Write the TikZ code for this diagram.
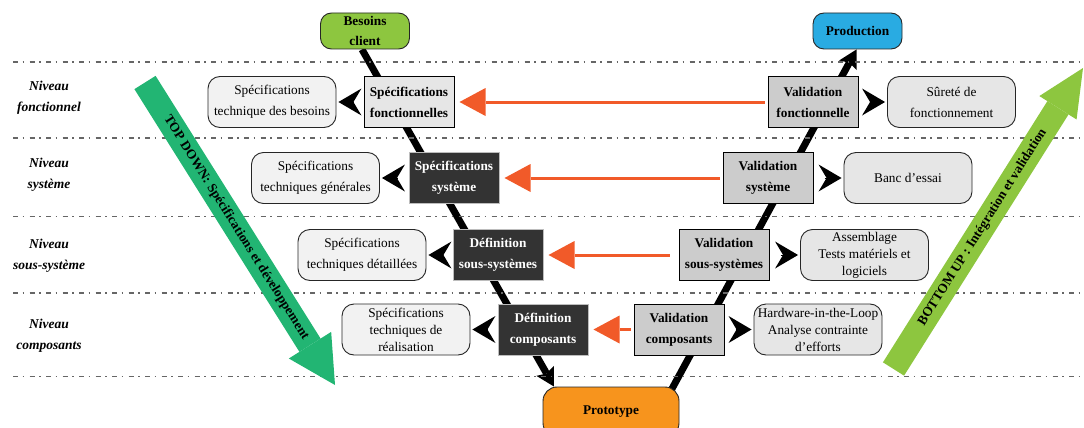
\documentclass[tikz,border=0pt]{standalone}
\usepackage{fontspec}
\setmainfont{Liberation Serif}
\usetikzlibrary{arrows.meta,backgrounds}

\definecolor{specgray}{HTML}{E6E6E6}
\definecolor{valgray}{HTML}{CCCCCC}
\definecolor{darkfill}{HTML}{333333}
\definecolor{darkedge}{HTML}{BDBDBD}
\definecolor{noteleft}{HTML}{F2F2F2}
\definecolor{noteright}{HTML}{E6E6E6}
\definecolor{vorange}{HTML}{F15A29}
\definecolor{tdgreen}{HTML}{22B573}
\definecolor{bugreen}{HTML}{8DC63F}
\definecolor{prodblue}{HTML}{29ABE2}
\definecolor{protoorange}{HTML}{F7941D}
\definecolor{sepgray}{HTML}{666666}

\newcommand{\boxfont}{\fontsize{13.3}{21}\selectfont\bfseries}
\newcommand{\notefont}{\fontsize{13.3}{21}\selectfont}
\newcommand{\tightfont}{\fontsize{13.3}{17}\selectfont}
\newcommand{\levelfont}{\fontsize{13.5}{21}\selectfont\bfseries\itshape}

\begin{document}
\begin{tikzpicture}[x=1pt,y=-1pt,
    level/.style={font=\levelfont,align=center},
    specbox/.style={draw=black,line width=1pt,fill=specgray,minimum width=90pt,minimum height=51pt,inner sep=1pt,font=\boxfont,align=center},
    darkbox/.style={specbox,draw=darkedge,fill=darkfill,text=white},
    valbox/.style={specbox,fill=valgray},
    note/.style={draw=black!85,line width=0.9pt,rounded corners=12pt,minimum width=128pt,minimum height=51pt,inner sep=1pt,font=\notefont,align=center},
    endbox/.style={draw=black!85,line width=0.9pt,rounded corners=11pt,minimum width=89pt,minimum height=36pt,inner sep=1pt,font=\fontsize{13.3}{20}\selectfont\bfseries,align=center},
    vline/.style={line width=7pt,-{Stealth[length=18pt,width=20pt,inset=3pt,line width=0pt]}},
    sidearrow/.style={line width=0.3pt,-{Stealth[length=23pt,width=27pt,inset=8pt,line width=0pt]},shorten >=2pt,shorten <=11pt},
    feedback/.style={draw=vorange,line width=3pt,-{Triangle[length=26pt,width=28pt,line width=0pt]},shorten >=5pt,shorten <=3pt},
    bigarrow/.style={line width=25pt},
    arrowtext/.style={sloped,text=black,font=\fontsize{13.3}{16}\selectfont\bfseries},
    separator/.style={sepgray,line width=1.1pt,dash pattern=on 5pt off 4.5pt on 1.5pt off 5.5pt}]

\useasboundingbox (0,0) rectangle (1084,428);

% level separators
\draw[separator] (13,62) -- (1084,62);
\draw[separator] (13,138) -- (1084,138);
\draw[separator] (13,216.5) -- (1084,216.5);
\draw[separator] (13,293) -- (1084,293);
\draw[separator] (13,376.5) -- (1084,376.5);

% levels
\node[level] (lf) at (49,98) {Niveau\\fonctionnel};
\node[level] (ls) at (49,175) {Niveau\\système};
\node[level] (lss) at (49,255.5) {Niveau\\sous-système};
\node[level] (lc) at (49,335.5) {Niveau\\composants};

% ends of the V
\node[endbox,fill=bugreen] (bc) at (365,31) {Besoins\\client};
\node[endbox,fill=prodblue] (prod) at (857.5,31) {Production};
\node[endbox,fill=protoorange,minimum width=136pt,minimum height=50pt,rounded corners=14pt] (proto) at (611,412) {Prototype};

% left branch
\node[specbox] (sf) at (409,102) {Spécifications\\fonctionnelles};
\node[darkbox] (ss) at (454,178) {Spécifications\\système};
\node[darkbox] (ds) at (498,255) {Définition\\sous-systèmes};
\node[darkbox] (dc) at (543,329.5) {Définition\\composants};

% right branch
\node[valbox] (vf) at (813,102) {Validation\\fonctionnelle};
\node[valbox] (vs) at (768,178) {Validation\\système};
\node[valbox] (vss) at (724,255) {Validation\\sous-systèmes};
\node[valbox] (vc) at (679,329.5) {Validation\\composants};

% documents on the left
\node[note,fill=noteleft] (nbes) at (272,102) {Spécifications\\technique des besoins};
\node[note,fill=noteleft] (ngen) at (315.5,178) {Spécifications\\techniques générales};
\node[note,fill=noteleft] (ndet) at (362,255) {Spécifications\\techniques détaillées};
\node[note,fill=noteleft,font=\tightfont] (nreal) at (406,329.5) {Spécifications\\techniques de\\réalisation};

% tests on the right
\node[note,fill=noteright] (nsur) at (951.5,102) {Sûreté de\\fonctionnement};
\node[note,fill=noteright] (nbanc) at (908,178) {Banc d’essai};
\node[note,fill=noteright,font=\tightfont] (nass) at (864.5,255) {Assemblage\\Tests matériels et\\logiciels};
\node[note,fill=noteright,font=\tightfont] (nhil) at (818,329.5) {Hardware-in-the-Loop\\Analyse contrainte\\d’efforts};

% the V itself, behind the boxes
\begin{scope}[on background layer]
\draw[vline] ([xshift=-3pt]bc.south) -- ([xshift=-57pt]proto.north);
\draw[vline] ([xshift=60pt,yshift=-4pt]proto.north) -- ([xshift=-1pt]prod.south);
\end{scope}

% boxes to documents and tests
\draw[sidearrow] (sf) -- (nbes);
\draw[sidearrow] (ss) -- (ngen);
\draw[sidearrow] (ds) -- (ndet);
\draw[sidearrow] (dc) -- (nreal);
\draw[sidearrow] (vf) -- (nsur);
\draw[sidearrow] (vs) -- (nbanc);
\draw[sidearrow] (vss) -- (nass);
\draw[sidearrow] (vc) -- (nhil);

% validation back to specification
\draw[feedback] (vf) -- (sf);
\draw[feedback] (vs) -- (ss);
\draw[feedback,shorten <=9pt] (vss) -- (ds);
\draw[feedback] (vc) -- (dc);

% top down and bottom up
\coordinate (tdtop) at (145,82.5);
\coordinate (tdtip) at (335,385);
\coordinate (bubot) at (893.5,369);
\coordinate (butip) at (1083,68);
\draw[bigarrow,tdgreen,-{Triangle[length=47pt,width=50pt,line width=0pt]}] (tdtop) -- (tdtip)
    node[arrowtext,pos=0.48] (tdtext) {TOP DOWN: Spécifications et développement};
\draw[bigarrow,bugreen,-{Triangle[length=47pt,width=44pt,line width=0pt]}] (bubot) -- (butip)
    node[arrowtext,pos=0.47] (butext) {BOTTOM UP : Intégration et validation};

\end{tikzpicture}
\end{document}
